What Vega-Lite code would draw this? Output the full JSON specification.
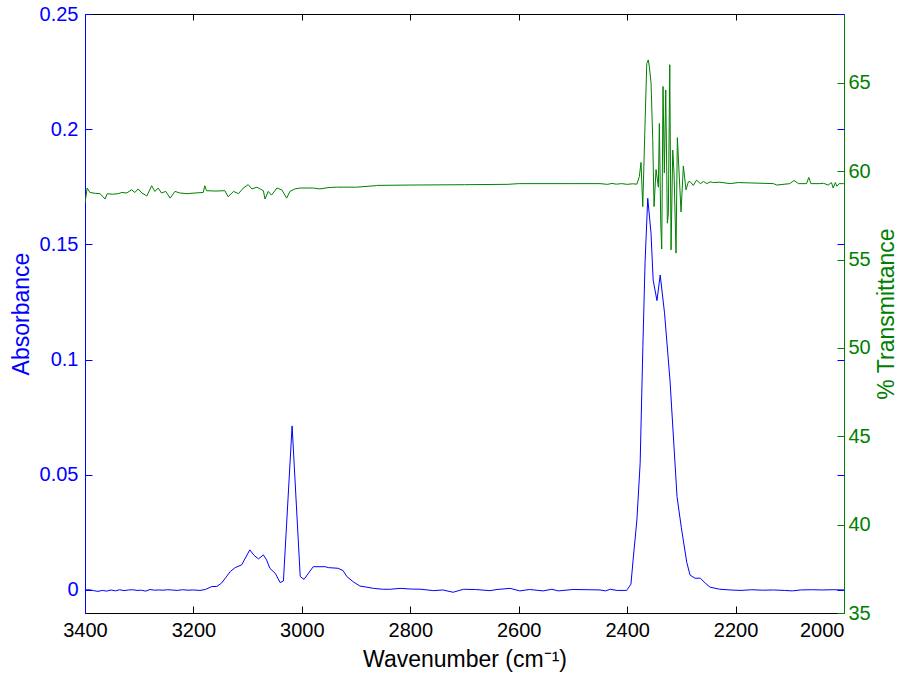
{
  "$schema": "https://vega.github.io/schema/vega-lite/v6.json",
  "width": 759,
  "height": 599,
  "autosize": {"type": "none"},
  "padding": {"left": 85, "top": 14, "right": 58, "bottom": 66},
  "background": "white",
  "config": {
    "view": {"stroke": null},
    "font": "Liberation Sans",
    "axis": {"grid": false, "labelFont": "Liberation Sans", "titleFont": "Liberation Sans", "labelFontSize": 20, "titleFontSize": 23, "titleFontWeight": "normal", "domainWidth": 1, "tickWidth": 1}
  },
  "datasets": {
    "abs": [
      {"wn":3400,"A":0},{"wn":3392,"A":0.0001},{"wn":3384,"A":-0.0003},{"wn":3376,"A":-0.0006},{"wn":3368,"A":-0.0002},{"wn":3360,"A":-0.0005},{"wn":3352,"A":0},{"wn":3344,"A":-0.0004},{"wn":3336,"A":0.0001},{"wn":3328,"A":-0.0003},{"wn":3320,"A":0},{"wn":3312,"A":0.0001},{"wn":3304,"A":-0.0002},{"wn":3296,"A":-0.0001},{"wn":3288,"A":-0.0005},{"wn":3280,"A":0.0002},{"wn":3272,"A":-0.0001},{"wn":3264,"A":0},{"wn":3256,"A":-0.0001},{"wn":3248,"A":0.0001},{"wn":3240,"A":0},{"wn":3230,"A":-0.0002},{"wn":3220,"A":0.0001},{"wn":3210,"A":-0.0001},{"wn":3200,"A":0},{"wn":3188,"A":-0.0002},{"wn":3178,"A":0.0002},{"wn":3166,"A":0.0015},{"wn":3157,"A":0.0015},{"wn":3148,"A":0.003},{"wn":3140,"A":0.0055},{"wn":3132,"A":0.008},{"wn":3123,"A":0.0097},{"wn":3111,"A":0.0109},{"wn":3096,"A":0.0174},{"wn":3088,"A":0.015},{"wn":3080,"A":0.0135},{"wn":3071,"A":0.0152},{"wn":3065,"A":0.013},{"wn":3059,"A":0.0094},{"wn":3049,"A":0.0072},{"wn":3040,"A":0.0032},{"wn":3034,"A":0.0039},{"wn":3018,"A":0.0712},{"wn":3003,"A":0.0058},{"wn":2996,"A":0.0046},{"wn":2979,"A":0.0101},{"wn":2957,"A":0.0101},{"wn":2951,"A":0.0097},{"wn":2933,"A":0.0094},{"wn":2924,"A":0.0084},{"wn":2917,"A":0.0058},{"wn":2905,"A":0.0035},{"wn":2893,"A":0.0017},{"wn":2880,"A":0.0012},{"wn":2868,"A":0.0007},{"wn":2850,"A":0.0003},{"wn":2837,"A":0.0003},{"wn":2819,"A":0.0007},{"wn":2800,"A":0.0004},{"wn":2780,"A":0.0003},{"wn":2757,"A":-0.0003},{"wn":2740,"A":0},{"wn":2721,"A":-0.001},{"wn":2702,"A":0.0003},{"wn":2680,"A":0.0002},{"wn":2653,"A":-0.0003},{"wn":2640,"A":0.0002},{"wn":2616,"A":0.0007},{"wn":2598,"A":-0.0004},{"wn":2580,"A":0.0002},{"wn":2555,"A":-0.0004},{"wn":2539,"A":0.0003},{"wn":2527,"A":-0.0004},{"wn":2500,"A":0.0002},{"wn":2470,"A":0.0001},{"wn":2450,"A":0},{"wn":2440,"A":-0.0004},{"wn":2431,"A":0.0003},{"wn":2419,"A":-0.0002},{"wn":2401,"A":-0.0002},{"wn":2393,"A":0.0025},{"wn":2389,"A":0.013},{"wn":2382,"A":0.0304},{"wn":2376,"A":0.055},{"wn":2371,"A":0.1056},{"wn":2367,"A":0.1418},{"wn":2362,"A":0.17},{"wn":2356,"A":0.155},{"wn":2352,"A":0.1345},{"wn":2345,"A":0.1256},{"wn":2339,"A":0.1367},{"wn":2331,"A":0.1201},{"wn":2321,"A":0.0911},{"wn":2308,"A":0.0405},{"wn":2300,"A":0.027},{"wn":2290,"A":0.012},{"wn":2284,"A":0.0065},{"wn":2275,"A":0.0051},{"wn":2265,"A":0.0051},{"wn":2256,"A":0.003},{"wn":2247,"A":0.0012},{"wn":2229,"A":0.0003},{"wn":2210,"A":0},{"wn":2190,"A":-0.0002},{"wn":2170,"A":0.0001},{"wn":2150,"A":-0.0001},{"wn":2130,"A":0},{"wn":2110,"A":-0.0002},{"wn":2095,"A":-0.0004},{"wn":2080,"A":0},{"wn":2060,"A":0.0001},{"wn":2040,"A":0},{"wn":2020,"A":0.0001},{"wn":2000,"A":0}
    ],
    "trans": [
      {"wn":3400,"T":58.2},{"wn":3396,"T":59.05},{"wn":3391,"T":58.8},{"wn":3381,"T":58.75},{"wn":3372,"T":58.73},{"wn":3363,"T":58.43},{"wn":3359,"T":58.73},{"wn":3349,"T":58.7},{"wn":3339,"T":58.73},{"wn":3332,"T":58.8},{"wn":3323,"T":58.77},{"wn":3314,"T":58.95},{"wn":3308,"T":58.8},{"wn":3302,"T":59.0},{"wn":3295,"T":58.77},{"wn":3286,"T":58.6},{"wn":3277,"T":59.18},{"wn":3271,"T":58.86},{"wn":3265,"T":59.05},{"wn":3259,"T":58.77},{"wn":3251,"T":58.86},{"wn":3243,"T":58.48},{"wn":3234,"T":58.86},{"wn":3225,"T":58.77},{"wn":3212,"T":58.73},{"wn":3197,"T":58.77},{"wn":3182,"T":58.8},{"wn":3179,"T":59.18},{"wn":3176,"T":58.9},{"wn":3160,"T":58.88},{"wn":3142,"T":58.9},{"wn":3136,"T":58.56},{"wn":3126,"T":58.86},{"wn":3117,"T":58.73},{"wn":3108,"T":59.05},{"wn":3099,"T":59.24},{"wn":3092,"T":59.0},{"wn":3083,"T":59.1},{"wn":3071,"T":58.9},{"wn":3068,"T":58.43},{"wn":3062,"T":58.86},{"wn":3056,"T":58.65},{"wn":3046,"T":59.05},{"wn":3037,"T":58.95},{"wn":3028,"T":58.48},{"wn":3022,"T":58.86},{"wn":3013,"T":59.0},{"wn":3003,"T":59.05},{"wn":2990,"T":59.05},{"wn":2979,"T":59.05},{"wn":2967,"T":59.0},{"wn":2950,"T":59.08},{"wn":2936,"T":59.1},{"wn":2899,"T":59.1},{"wn":2865,"T":59.18},{"wn":2862,"T":59.2},{"wn":2800,"T":59.22},{"wn":2700,"T":59.24},{"wn":2620,"T":59.26},{"wn":2600,"T":59.3},{"wn":2500,"T":59.3},{"wn":2450,"T":59.3},{"wn":2436,"T":59.26},{"wn":2428,"T":59.31},{"wn":2420,"T":59.27},{"wn":2410,"T":59.3},{"wn":2400,"T":59.26},{"wn":2390,"T":59.29},{"wn":2382,"T":59.27},{"wn":2377.5,"T":59.7},{"wn":2374.4,"T":60.5},{"wn":2371.2,"T":58.0},{"wn":2367,"T":62.7},{"wn":2363.8,"T":66.1},{"wn":2361,"T":66.3},{"wn":2359,"T":65.9},{"wn":2355.9,"T":65.0},{"wn":2352.8,"T":61.8},{"wn":2350.4,"T":58.0},{"wn":2346.7,"T":60.1},{"wn":2342.4,"T":59.1},{"wn":2340.6,"T":62.7},{"wn":2338,"T":57.06},{"wn":2336.2,"T":55.6},{"wn":2333.8,"T":64.8},{"wn":2331.4,"T":59.9},{"wn":2328.8,"T":64.6},{"wn":2325.8,"T":57.06},{"wn":2324,"T":57.6},{"wn":2321.4,"T":66.03},{"wn":2319,"T":55.55},{"wn":2315.9,"T":61.2},{"wn":2313.5,"T":59.9},{"wn":2309.8,"T":55.37},{"wn":2307.4,"T":61.9},{"wn":2304.8,"T":60.3},{"wn":2300.6,"T":57.7},{"wn":2296.3,"T":60.3},{"wn":2291.4,"T":58.95},{"wn":2287.1,"T":59.4},{"wn":2284,"T":59.42},{"wn":2278,"T":59.2},{"wn":2272,"T":59.5},{"wn":2265,"T":59.3},{"wn":2259,"T":59.42},{"wn":2253,"T":59.3},{"wn":2247,"T":59.4},{"wn":2241,"T":59.36},{"wn":2229,"T":59.38},{"wn":2210,"T":59.3},{"wn":2195,"T":59.36},{"wn":2130,"T":59.3},{"wn":2124,"T":59.22},{"wn":2100,"T":59.3},{"wn":2092,"T":59.48},{"wn":2084,"T":59.3},{"wn":2069,"T":59.3},{"wn":2065,"T":59.65},{"wn":2061,"T":59.3},{"wn":2044,"T":59.3},{"wn":2038,"T":59.32},{"wn":2029,"T":59.22},{"wn":2023,"T":59.36},{"wn":2020,"T":59.05},{"wn":2016,"T":59.36},{"wn":2013,"T":59.15},{"wn":2009,"T":59.3},{"wn":2001,"T":59.3},{"wn":2000,"T":59.3}
    ]
  },
  "layer": [
    {
      "data": {"name": "abs"},
      "mark": {"type": "line", "color": "#0000FF", "strokeWidth": 1, "clip": true},
      "encoding": {
        "x": {"field": "wn", "type": "quantitative",
          "scale": {"domain": [2000, 3400], "reverse": true, "nice": false, "zero": false},
          "axis": {"orient": "bottom", "title": "Wavenumber (cm⁻¹)", "values": [3400, 3200, 3000, 2800, 2600, 2400, 2200, 2000], "format": "d", "domainColor": "black", "tickColor": "black", "labelColor": "black", "titleColor": "black", "tickSize": -7, "labelPadding": 14, "titlePadding": 8, "labelFlush": false, "labelOverlap": false,
            "labelAlign": {"condition": {"test": "datum.value == 2000", "value": "right"}, "value": "center"}}},
        "y": {"field": "A", "type": "quantitative",
          "scale": {"domain": [-0.01, 0.25], "nice": false, "zero": false},
          "axis": {"orient": "left", "title": "Absorbance", "values": [0, 0.05, 0.1, 0.15, 0.2, 0.25], "format": "~g", "domainColor": "#0000FF", "tickColor": "#0000FF", "labelColor": "#0000FF", "titleColor": "#0000FF", "tickSize": -7, "labelPadding": 14, "titlePadding": 6}}
      }
    },
    {
      "data": {"name": "trans"},
      "mark": {"type": "line", "color": "#008000", "strokeWidth": 1, "clip": true},
      "encoding": {
        "x": {"field": "wn", "type": "quantitative",
          "axis": {"orient": "top", "title": null, "labels": false, "values": [3400, 3200, 3000, 2800, 2600, 2400, 2200, 2000], "domainColor": "black", "tickColor": "black", "tickSize": -6}},
        "y": {"field": "T", "type": "quantitative",
          "scale": {"domain": [35, 68.9], "nice": false, "zero": false},
          "axis": {"orient": "right", "title": "% Transmittance", "values": [35, 40, 45, 50, 55, 60, 65], "domainColor": "#008000", "tickColor": "#008000", "labelColor": "#008000", "titleColor": "#008000", "tickSize": -7, "labelPadding": 11, "titlePadding": 5, "titleAngle": -90, "titleBaseline": "top"}}
      }
    },
    {
      "data": {"name": "abs"},
      "mark": {"type": "line", "opacity": 0, "clip": true},
      "encoding": {
        "x": {"field": "wn", "type": "quantitative", "axis": null},
        "y": {"field": "A", "type": "quantitative",
          "scale": {"domain": [-0.01, 0.25], "nice": false, "zero": false},
          "axis": {"orient": "right", "title": null, "labels": false, "domain": false, "values": [0, 0.05, 0.1, 0.15, 0.2, 0.25], "tickColor": "#0000FF", "tickSize": -7}}
      }
    }
  ],
  "resolve": {"scale": {"y": "independent"}, "axis": {"x": "independent", "y": "independent"}}
}
